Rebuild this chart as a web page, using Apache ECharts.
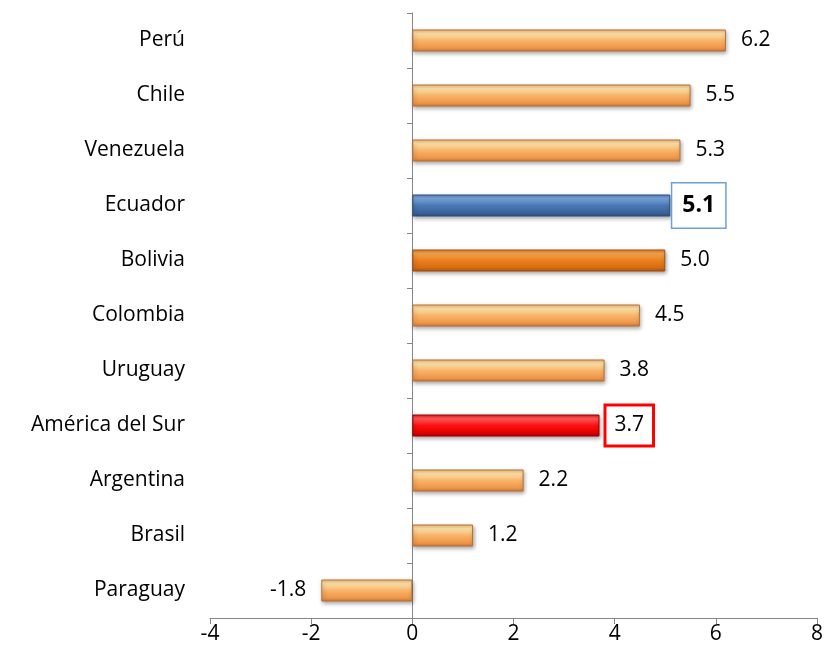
<!DOCTYPE html>
<html><head><meta charset="utf-8">
<script src="https://cdn.jsdelivr.net/npm/echarts@6/dist/echarts.min.js"></script>
<style>html,body{margin:0;padding:0;background:#fff}#c{width:827px;height:663px}</style>
</head><body><div id="c"></div>
<script>
const categories = ["Paraguay","Brasil","Argentina","América del Sur","Uruguay","Colombia","Bolivia","Ecuador","Venezuela","Chile","Perú"];
const values = [-1.8,1.2,2.2,3.7,3.8,4.5,5.0,5.1,5.3,5.5,6.2];
const xTicks = {min:-4,max:8,interval:2};

const FONT = 'Open Sans';
function grad(c0,c1,c2,c3,c4){
  return new echarts.graphic.LinearGradient(0,0,0,1,[
    {offset:0,color:c0},{offset:0.18,color:c1},{offset:0.5,color:c2},{offset:0.85,color:c3},{offset:1,color:c4}]);
}
const styles = {
  normal: {color: grad('#f6b46c','#fde4ad','#f8b468','#ef9548','#c8783a'), borderColor:'#b8733a'},
  blue:   {color: grad('#5a86c0','#7aa6dc','#4a78b4','#3a6299','#2d4e7c'), borderColor:'#2e4d77'},
  bol:    {color: grad('#e8791f','#f6a64f','#e9801f','#d8690f','#a95212'), borderColor:'#9c5114'},
  red:    {color: grad('#ee1010','#ff5a5a','#ff1010','#e00000','#a80000'), borderColor:'#9a0000'}
};
const data = categories.map((c,i)=>{
  const v = values[i];
  let st = styles.normal;
  const d = {value:v};
  const lab = {position: v<0?'left':'right', distance:15, padding:[7,0,0,0]};
  if(c==='Ecuador'){st=styles.blue; Object.assign(lab,{fontWeight:'bold',fontSize:23,borderColor:'#6d9fd8',borderWidth:1.5,padding:[11,10,10,10],distance:2,backgroundColor:'#fff'});}
  if(c==='Bolivia'){st=styles.bol;}
  if(c==='América del Sur'){st=styles.red; Object.assign(lab,{borderColor:'#ff0000',borderWidth:3,padding:[9,8,8,8],distance:7,backgroundColor:'#fff'});}
  d.itemStyle = {color:st.color,borderColor:st.borderColor,borderWidth:1};
  d.label = lab;
  return d;
});
const chart = echarts.init(document.getElementById('c'));
chart.setOption({
  animation:false,
  textStyle:{fontFamily:FONT},
  grid:{left:210,right:10,top:13,bottom:45,containLabel:false},
  xAxis:{type:'value',min:xTicks.min,max:xTicks.max,interval:xTicks.interval,
    axisLine:{show:true,onZero:false,lineStyle:{color:'#868686',width:1}},
    axisTick:{show:true,length:6,lineStyle:{color:'#868686'}},
    splitLine:{show:false},
    axisLabel:{color:'#000',fontSize:21,fontFamily:FONT,margin:6,formatter:v=>String(v)}},
  yAxis:[
    {type:'category',data:categories,position:'left',
     axisLine:{show:false},axisTick:{show:false},
     axisLabel:{color:'#000',fontSize:21,fontFamily:FONT,margin:25,padding:[5,0,0,0]}},
    {type:'category',data:categories,position:'left',offset:-202,
     axisLine:{show:true,onZero:false,lineStyle:{color:'#868686'}},
     axisTick:{show:true,length:5,lineStyle:{color:'#868686'}},
     axisLabel:{show:false}}
  ],
  series:[{
    type:'bar',yAxisIndex:0,data:data,barWidth:22,
    itemStyle:{shadowColor:'rgba(0,0,0,0.35)',shadowBlur:4,shadowOffsetY:2,shadowOffsetX:1},
    label:{show:true,color:'#000',fontSize:21,fontFamily:FONT,formatter:p=>p.value.toFixed(1)}
  }]
});
</script></body></html>
